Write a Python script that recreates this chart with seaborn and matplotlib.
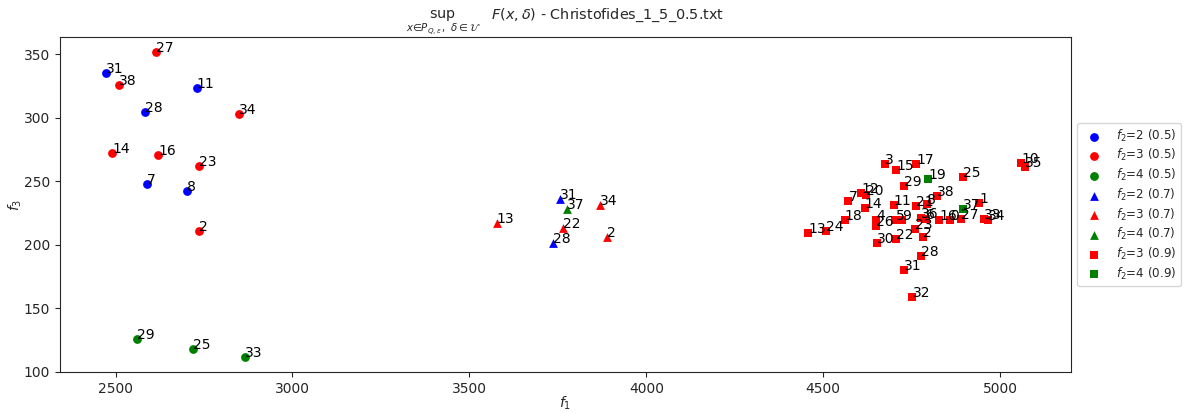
import matplotlib
matplotlib.use("Agg")
import matplotlib.pyplot as plt
import seaborn as sns
import pandas as pd

# ---- data: (id, f1, f3) per group ----
g05_f2_2_ids = [31, 28, 11, 7, 8]
g05_f2_2_f1 = [2472, 2583, 2730, 2588, 2703]
g05_f2_2_f3 = [334.8, 304.5, 323.2, 247.5, 242.0]

g05_f2_3_ids = [27, 38, 34, 14, 16, 23, 2]
g05_f2_3_f1 = [2615, 2511, 2848, 2491, 2620, 2737, 2735]
g05_f2_3_f3 = [351.3, 325.6, 302.9, 272.2, 270.3, 261.9, 211.2]

g05_f2_4_ids = [29, 25, 33]
g05_f2_4_f1 = [2562, 2720, 2867]
g05_f2_4_f3 = [126.0, 118.0, 111.8]

g07_f2_2_ids = [31, 28]
g07_f2_2_f1 = [3756, 3735]
g07_f2_2_f3 = [235.6, 201.5]

g07_f2_3_ids = [13, 34, 22, 2]
g07_f2_3_f1 = [3577, 3868, 3765, 3890]
g07_f2_3_f3 = [217.3, 231.5, 213.3, 206.2]

g07_f2_4_ids = [37]
g07_f2_4_f1 = [3775]
g07_f2_4_f3 = [228.3]

g09_f2_3_ids = [0, 1, 2, 3, 4, 5, 6, 7, 8, 9, 10, 11, 12, 13, 14, 15, 16, 17, 18,
                20, 21, 22, 23, 24, 25, 26, 27, 28, 29, 30, 31, 32, 33, 34, 35, 36, 38]
g09_f2_3_f1 = [4858, 4941, 4783, 4675, 4649, 4704, 4790, 4571, 4794, 4723, 5059, 4699,
               4607, 4457, 4617, 4706, 4828, 4763, 4561,
               4620, 4761, 4705, 4759, 4509, 4895, 4649, 4890, 4776, 4727, 4653, 4728,
               4752, 4954, 4965, 5071, 4776, 4822]
g09_f2_3_f3 = [219.6, 232.7, 206.2, 263.2, 219.6, 219.1, 220.2, 234.3, 232.2, 219.1, 264.6,
               230.9, 240.9, 209.4, 228.8, 259.1, 219.6, 263.2, 219.1,
               238.8, 230.1, 204.9, 212.0, 211.2, 253.5, 215.1, 219.9, 191.2, 245.9, 201.5,
               180.4, 158.9, 220.1, 219.6, 260.9, 220.7, 238.3]

g09_f2_4_ids = [19, 37]
g09_f2_4_f1 = [4797, 4895]
g09_f2_4_f3 = [251.7, 228.3]

groups = [
    ("$f_2$=2 (0.5)", "blue", "o", g05_f2_2_ids, g05_f2_2_f1, g05_f2_2_f3),
    ("$f_2$=3 (0.5)", "red", "o", g05_f2_3_ids, g05_f2_3_f1, g05_f2_3_f3),
    ("$f_2$=4 (0.5)", "green", "o", g05_f2_4_ids, g05_f2_4_f1, g05_f2_4_f3),
    ("$f_2$=2 (0.7)", "blue", "^", g07_f2_2_ids, g07_f2_2_f1, g07_f2_2_f3),
    ("$f_2$=3 (0.7)", "red", "^", g07_f2_3_ids, g07_f2_3_f1, g07_f2_3_f3),
    ("$f_2$=4 (0.7)", "green", "^", g07_f2_4_ids, g07_f2_4_f1, g07_f2_4_f3),
    ("$f_2$=3 (0.9)", "red", "s", g09_f2_3_ids, g09_f2_3_f1, g09_f2_3_f3),
    ("$f_2$=4 (0.9)", "green", "s", g09_f2_4_ids, g09_f2_4_f1, g09_f2_4_f3),
]

sns.set_style("ticks")
plt.rcParams["font.family"] = ["DejaVu Sans"]

fig, ax = plt.subplots(figsize=(11.93, 4.13), dpi=100)
fig.subplots_adjust(left=0.050, right=0.898, top=0.910, bottom=0.099)

for label, color, marker, ids, f1, f3 in groups:
    df = pd.DataFrame({"f1": f1, "f3": f3, "id": ids})
    sns.scatterplot(data=df, x="f1", y="f3", color=color, marker=marker, s=40,
                    linewidth=0, label=label, ax=ax)
    for _, r in df.iterrows():
        ax.text(r["f1"], r["f3"], str(int(r["id"])), fontsize=10, color="black")

ax.set_xlabel("$f_1$", labelpad=-1)
ax.set_ylabel("$f_3$", labelpad=0)
ax.set_xticks([2500, 3000, 3500, 4000, 4500, 5000])
ax.set_yticks([100, 150, 200, 250, 300, 350])
ax.set_title(r"$\sup_{x \in P_{Q,\varepsilon},\ \delta \in \mathcal{U}}\quad F(x, \delta)$ - Christofides_1_5_0.5.txt",
             fontsize=10.4, pad=1.5)
ax.legend(loc="center left", bbox_to_anchor=(1.0, 0.5), fontsize=8.6,
          labelspacing=0.3, frameon=True)

fig.savefig("out.png", dpi=100)
